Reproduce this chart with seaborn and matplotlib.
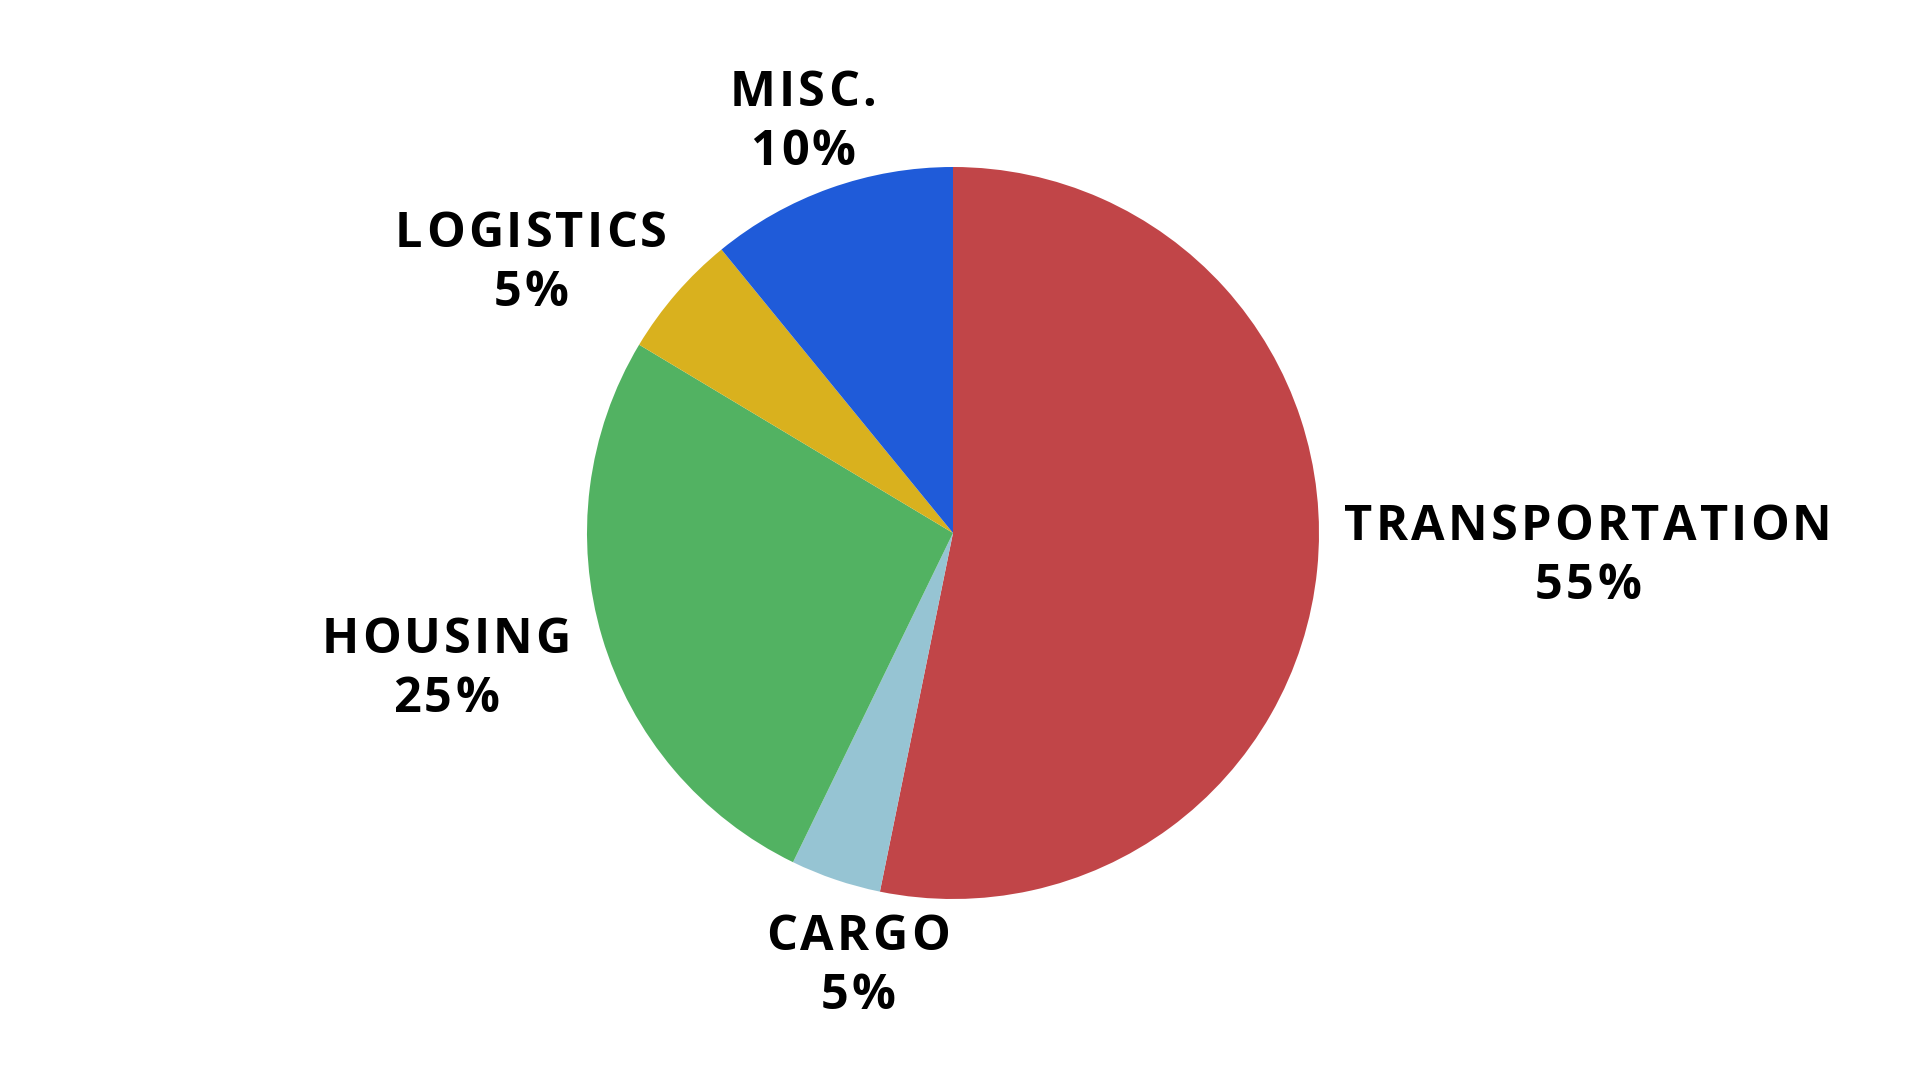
import matplotlib
matplotlib.use('Agg')
import matplotlib.pyplot as plt
import seaborn as sns
from matplotlib.font_manager import FontProperties, findfont, get_font
from matplotlib.transforms import IdentityTransform

# data
categories = ["TRANSPORTATION", "CARGO", "HOUSING", "LOGISTICS", "MISC."]
shares = [53.2, 4.0, 26.4, 5.5, 10.9]
share_labels = ["55%", "5%", "25%", "5%", "10%"]
colors = ["#C14548", "#96C4D3", "#52B262", "#D9B11E", "#1F5BD9"]

# label anchors (centre x, first baseline y) in pie-radius units
label_xy = [(1.735, -0.019), (-0.260, -1.139), (-1.385, -0.328),
            (-1.153, 0.781), (-0.410, 1.167)]

sns.set_theme(style="white")
plt.rcParams["font.family"] = ["Open Sans", "DejaVu Sans"]

DPI = 100
fig = plt.figure(figsize=(19.2, 10.67), dpi=DPI)
ax = fig.add_axes([0, 0, 1, 1])

ax.pie(shares, colors=sns.color_palette(colors), startangle=90,
       counterclock=False, wedgeprops=dict(linewidth=0))

R = 366.0
ax.set_xlim(-953 / R, 967 / R)
ax.set_ylim(-534 / R, 533 / R)
ax.set_aspect('auto')
ax.axis('off')

FS = 35
TRACK = 3.2  # extra letter spacing, px
LINE = 59    # line pitch, px
fp = FontProperties(family="Open Sans", weight="bold", size=FS)
ft = get_font(findfont(fp))
ft.set_size(FS, DPI)


def advance(ch):
    g = ft.load_char(ord(ch))
    return g.linearHoriAdvance / 65536.0


def spaced(x, y, s):
    adv = [advance(c) for c in s]
    total = sum(adv) + TRACK * (len(s) - 1)
    px = x - total / 2
    for c, a in zip(s, adv):
        ax.text(px, y, c, transform=IdentityTransform(), fontproperties=fp,
                color="black", ha="left", va="baseline")
        px += a + TRACK


for (lx, ly), name, pct in zip(label_xy, categories, share_labels):
    X, Y = ax.transData.transform((lx, ly))
    spaced(X, Y, name)
    spaced(X, Y - LINE, pct)

fig.savefig("out.png", dpi=DPI, facecolor="white")
